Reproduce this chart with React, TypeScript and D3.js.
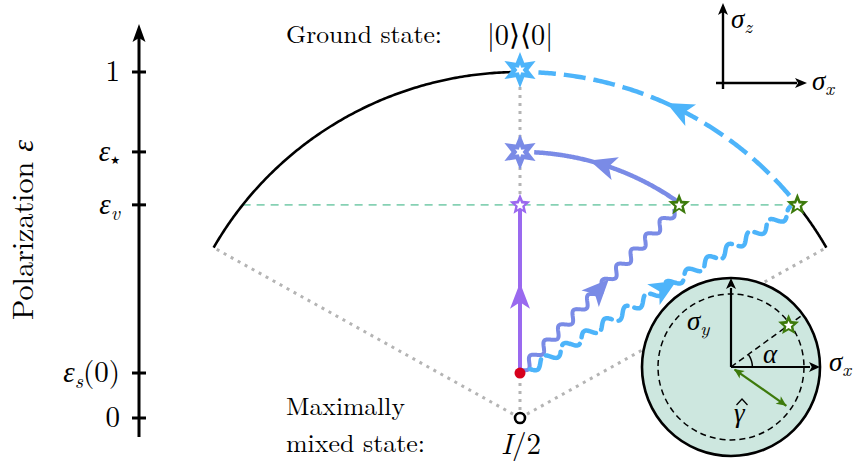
import React from 'react';
import * as d3 from 'd3';

// ---- data ----
const tickValues = [0, 0.13, 0.616, 0.769, 1];
const tickMain = ['0', 'ε', 'ε', 'ε', '1'];
const tickSub = ['', 's', 'v', '★', ''];
const tickTail = ['', '(0)', '', '', ''];

const EPS_S0 = 0.13;
const EPS_V = 0.616;
const EPS_STAR = 0.769;
const ARC_EXTENT = 60.5; // deg from vertical
const greenStates: [number, number][] = [[0.452, 0.616], [0.788, 0.616]];
const sixStars: [number, number][] = [[0, 1], [0, 0.769]];
const waveStartsX = [0.0, 0.02];

const C = {
  blue: '#4db4fa',
  peri: '#7a8be6',
  purple: '#9a69ef',
  green: '#3d7a0c',
  mint: '#86d1b4',
  red: '#d6001c',
  gray: '#b4b4b4',
  inset: '#cde7df',
};
const LM = "'Latin Modern Roman', 'Liberation Serif', serif";
const GR = "'Liberation Serif', 'DejaVu Serif', serif";
const lm = { fontFamily: LM };
const gr = { fontFamily: GR };

function starPath(cx: number, cy: number, n: number, rO: number, rI: number) {
  const pts: string[] = [];
  for (let i = 0; i < 2 * n; i++) {
    const a = -Math.PI / 2 + (i * Math.PI) / n;
    const r = i % 2 === 0 ? rO : rI;
    pts.push(`${cx + r * Math.cos(a)},${cy + r * Math.sin(a)}`);
  }
  return 'M' + pts.join('L') + 'Z';
}

function wavePath(p0: number[], p1: number[], A: number, lam: number) {
  const dx = p1[0] - p0[0], dy = p1[1] - p0[1];
  const L = Math.hypot(dx, dy);
  const ux = dx / L, uy = dy / L, nx = -uy, ny = ux;
  const pts: [number, number][] = [];
  for (let s = 0; s <= L; s += 0.5) {
    const o = A * Math.sin((2 * Math.PI * s) / lam);
    pts.push([p0[0] + ux * s + nx * o, p0[1] + uy * s + ny * o]);
  }
  return d3.line()(pts) as string;
}

const Arrow = ({ x, y, angle, color, L = 27, w = 12 }: any) => (
  <path
    d={`M${L * 0.55},0 L${-L * 0.45},${w} L${-L * 0.2},0 L${-L * 0.45},${-w} Z`}
    transform={`translate(${x},${y}) rotate(${angle})`}
    fill={color}
  />
);

const Head = ({ x, y, angle, L = 11, w = 5, color = '#000' }: any) => (
  <path
    d={`M0,0 L${-L},${w} L${-L * 0.75},0 L${-L},${-w} Z`}
    transform={`translate(${x},${y}) rotate(${angle})`}
    fill={color}
  />
);

const Sig = ({ x, y, sub, size = 27 }: any) => (
  <text x={x} y={y} fontSize={size} style={gr}>
    <tspan fontStyle="italic" style={gr}>σ</tspan>
    <tspan fontSize={size * 0.7} dy={5} fontStyle="italic" style={lm}>{sub}</tspan>
  </text>
);

export default function App() {
  const x = d3.scaleLinear().domain([0, 1]).range([520, 872]);
  const y = d3.scaleLinear().domain([0, 1]).range([418, 72]);
  const line = d3.line<number[]>().x((d) => x(d[0])).y((d) => y(d[1]));
  const arcPts = (r: number, a0: number, a1: number, n = 160) =>
    d3.range(n + 1).map((i) => {
      const a = ((a0 + ((a1 - a0) * i) / n) * Math.PI) / 180;
      return [r * Math.sin(a), r * Math.cos(a)];
    });
  const deg = (p: number[]) => (Math.atan2(p[0], p[1]) * 180) / Math.PI;
  const angRight = deg(greenStates[1]);
  const angG1 = deg(greenStates[0]);
  const tangentAngle = (phi: number) => {
    const a = (phi * Math.PI) / 180;
    return (Math.atan2(-Math.sin(a) * 346, -Math.cos(a) * 352) * 180) / Math.PI;
  };
  const onArc = (r: number, phi: number) => {
    const a = (phi * Math.PI) / 180;
    return [x(r * Math.sin(a)), y(r * Math.cos(a))];
  };

  const end = arcPts(1, ARC_EXTENT, ARC_EXTENT, 1)[0];
  const endL = [-end[0], end[1]];

  const s0 = [x(waveStartsX[0]) + 2, y(EPS_S0) - 3];
  const s1 = [x(waveStartsX[1]) + 3, y(EPS_S0) - 4];
  const g0 = [x(greenStates[0][0]) - 4, y(greenStates[0][1]) + 5];
  const g1 = [x(greenStates[1][0]) - 5, y(greenStates[1][1]) + 6];
  const lerp = (a: number[], b: number[], t: number) => [a[0] + (b[0] - a[0]) * t, a[1] + (b[1] - a[1]) * t];
  const angOf = (a: number[], b: number[]) => (Math.atan2(b[1] - a[1], b[0] - a[0]) * 180) / Math.PI;
  const pa = lerp(s0, g0, 0.5);
  const pb = lerp(s1, g1, 0.51);

  const arrBlue = onArc(1, 27);
  const arrPeri = onArc(EPS_STAR, 18);

  // inset geometry
  const ic = [731, 367];
  const iR = 89;
  const iS = d3.scaleLinear().domain([0, 1]).range([0, iR]);
  const ALPHA = 36;
  const GAMMA_R = 0.8;
  const polar = (r: number, a: number) => [ic[0] + iS(r) * Math.cos((a * Math.PI) / 180), ic[1] - iS(r) * Math.sin((a * Math.PI) / 180)];
  const starIn = polar(GAMMA_R, ALPHA);
  const rayEnd = polar(1.0, ALPHA);
  const gEnd = polar(0.76, -35);
  const gStart = polar(0.05, -35);
  const aArc = d3.range(0, ALPHA + 1, 2).map((a) => polar(0.24, a));

  return (
    <svg width={861} height={466} style={{ position: 'absolute', left: 0, top: 0, background: '#fff', fontFamily: LM }}>
      {/* left axis */}
      <line x1={139} x2={139} y1={437} y2={36} stroke="#000" strokeWidth={3} />
      <path d="M139,24 L132.5,42 L139,38 L145.5,42 Z" fill="#000" />
      {tickValues.map((t, i) => (
        <g key={i}>
          <line x1={132} x2={146} y1={y(t)} y2={y(t)} stroke="#000" strokeWidth={3} />
          <text x={120} y={y(t) + 9} fontSize={29} textAnchor="end" style={lm}>
            <tspan fontStyle={tickMain[i] === 'ε' ? 'italic' : 'normal'} style={tickMain[i] === 'ε' ? gr : lm}>{tickMain[i]}</tspan>
            {tickSub[i] && (
              <tspan
                fontSize={tickSub[i] === '★' ? 11 : 20}
                fontStyle="italic"
                dy={tickSub[i] === '★' ? 3 : 6}
                style={tickSub[i] === '★' ? { fontFamily: "'DejaVu Sans', sans-serif" } : lm}
              >
                {tickSub[i]}
              </tspan>
            )}
            {tickTail[i] && <tspan dy={-6} style={lm}>{tickTail[i]}</tspan>}
          </text>
        </g>
      ))}
      <text transform="translate(33,230) rotate(-90)" fontSize={29} textAnchor="middle" textLength={180} lengthAdjust="spacingAndGlyphs" style={lm}>
        Polarization <tspan fontStyle="italic" style={gr}>ε</tspan>
      </text>

      {/* gray dotted lines */}
      <g stroke={C.gray} strokeWidth={3} strokeDasharray="3 5" fill="none">
        <path d={line([[0, 0], end]) as string} />
        <path d={line([[0, 0], endL]) as string} />
        <path d={line([[0, 0], [0, 1]]) as string} />
      </g>
      <path d={line([[-greenStates[1][0], EPS_V], greenStates[1]]) as string} stroke={C.mint} strokeWidth={1.6} strokeDasharray="8 6" fill="none" />
      <path d={line(arcPts(1, -ARC_EXTENT, 0)) as string} stroke="#000" strokeWidth={2.6} fill="none" />
      <path d={line(arcPts(1, angRight, ARC_EXTENT)) as string} stroke="#000" strokeWidth={2.6} fill="none" />
      <path d={line(arcPts(1, angRight - 2, 3)) as string} stroke={C.blue} strokeWidth={4.5} strokeDasharray="22 8" fill="none" />
      <Arrow x={arrBlue[0]} y={arrBlue[1]} angle={tangentAngle(27)} color={C.blue} />
      <path d={line(arcPts(EPS_STAR, angG1 - 1, 3)) as string} stroke={C.peri} strokeWidth={4.5} fill="none" />
      <Arrow x={arrPeri[0]} y={arrPeri[1]} angle={tangentAngle(18)} color={C.peri} />
      <path d={line([[0, EPS_S0], [0, EPS_V]]) as string} stroke={C.purple} strokeWidth={4} fill="none" />
      <Arrow x={x(0)} y={297} angle={-90} color={C.purple} L={26} w={10} />
      <path d={wavePath(s0, g0, 4.2, 21)} stroke={C.peri} strokeWidth={4} fill="none" />
      <path d={wavePath(s1, g1, 4.5, 24)} stroke={C.blue} strokeWidth={4.5} strokeDasharray="19 7" strokeLinecap="round" fill="none" />
      <Arrow x={pa[0]} y={pa[1]} angle={angOf(s0, g0)} color={C.peri} />
      <Arrow x={pb[0]} y={pb[1]} angle={angOf(s1, g1)} color={C.blue} />

      {/* inset */}
      <circle cx={ic[0]} cy={ic[1]} r={iR} fill={C.inset} stroke="#000" strokeWidth={2.6} />
      <circle cx={ic[0]} cy={ic[1]} r={iS(0.82)} fill="none" stroke="#000" strokeWidth={1.5} strokeDasharray="6 4" />
      <line x1={ic[0]} y1={ic[1]} x2={rayEnd[0]} y2={rayEnd[1]} stroke="#000" strokeWidth={1.5} strokeDasharray="6 4" />
      <path d={d3.line()(aArc as [number, number][]) as string} stroke="#000" strokeWidth={1.5} fill="none" />
      <line x1={ic[0]} y1={ic[1]} x2={ic[0]} y2={ic[1] - iR + 10} stroke="#000" strokeWidth={2.2} />
      <Head x={ic[0]} y={ic[1] - iR} angle={-90} />
      <line x1={ic[0]} y1={ic[1]} x2={ic[0] + iR - 10} y2={ic[1]} stroke="#000" strokeWidth={2.2} />
      <Head x={ic[0] + iR} y={ic[1]} angle={0} />
      <line x1={gStart[0]} y1={gStart[1]} x2={gEnd[0]} y2={gEnd[1]} stroke={C.green} strokeWidth={2.2} />
      <Head x={gEnd[0]} y={gEnd[1]} angle={35} color={C.green} L={10} w={4.5} />
      <Head x={ic[0] + 3} y={ic[1] + 2} angle={-145} color={C.green} L={10} w={4.5} />
      <path d={starPath(starIn[0], starIn[1], 5, 11, 5)} fill={C.green} />
      <path d={starPath(starIn[0], starIn[1] + 0.5, 5, 5, 2.3)} fill="#fff" />
      <Sig x={687} y={330} sub="y" />
      <Sig x={829} y={371} sub="x" />
      <text x={763} y={363} fontSize={27} fontStyle="italic" style={gr}>α</text>
      <text x={734} y={422} fontSize={27} fontStyle="italic" style={gr}>γ</text>
      <path d="M736.5,405 L742,399 L747.5,405" stroke="#000" strokeWidth={1.3} fill="none" />

      {/* stars */}
      {sixStars.map((p, i) => (
        <g key={i}>
          <path d={starPath(x(p[0]), y(p[1]) - (i === 0 ? 2 : 0), 6, 18, 8.5)} fill={i === 0 ? C.blue : C.peri} />
          <path d={starPath(x(p[0]), y(p[1]) - (i === 0 ? 2 : 0), 6, 5.5, 2.6)} fill="#fff" />
        </g>
      ))}
      <path d={starPath(x(0), y(EPS_V), 5, 11, 5)} fill={C.purple} />
      <path d={starPath(x(0), y(EPS_V) + 0.5, 5, 5, 2.3)} fill="#fff" />
      {greenStates.map((p, i) => (
        <g key={i}>
          <path d={starPath(x(p[0]), y(p[1]), 5, 11.5, 5)} fill={C.green} />
          <path d={starPath(x(p[0]), y(p[1]) + 0.5, 5, 5, 2.3)} fill="#fff" />
        </g>
      ))}
      <circle cx={x(0)} cy={y(EPS_S0)} r={5.5} fill={C.red} />
      <circle cx={x(0)} cy={y(0)} r={5} fill="#fff" stroke="#000" strokeWidth={2.6} />

      {/* top-right axes */}
      <line x1={723} x2={723} y1={89} y2={12} stroke="#000" strokeWidth={2.4} />
      <Head x={723} y={3} angle={-90} L={12} w={5} />
      <line x1={716} x2={797} y1={83} y2={83} stroke="#000" strokeWidth={2.4} />
      <Head x={807} y={83} angle={0} L={12} w={5} />
      <Sig x={731} y={28} sub="z" />
      <Sig x={812} y={90} sub="x" />

      {/* annotations */}
      <text x={286} y={43} fontSize={25} textLength={156} lengthAdjust="spacingAndGlyphs" style={lm}>Ground state:</text>
      <text x={520} y={45} fontSize={29} textAnchor="middle" textLength={66} lengthAdjust="spacingAndGlyphs" style={{ fontFamily: "'Latin Modern Roman', 'DejaVu Serif', serif" }}>|0⟩⟨0|</text>
      <text x={286} y={415} fontSize={25} textLength={119} lengthAdjust="spacingAndGlyphs" style={lm}>Maximally</text>
      <text x={286} y={452} fontSize={25} textLength={139} lengthAdjust="spacingAndGlyphs" style={lm}>mixed state:</text>
      <text x={521} y={454} fontSize={29} textAnchor="middle" style={lm}>
        <tspan fontStyle="italic" style={lm}>I</tspan>/2
      </text>
    </svg>
  );
}
